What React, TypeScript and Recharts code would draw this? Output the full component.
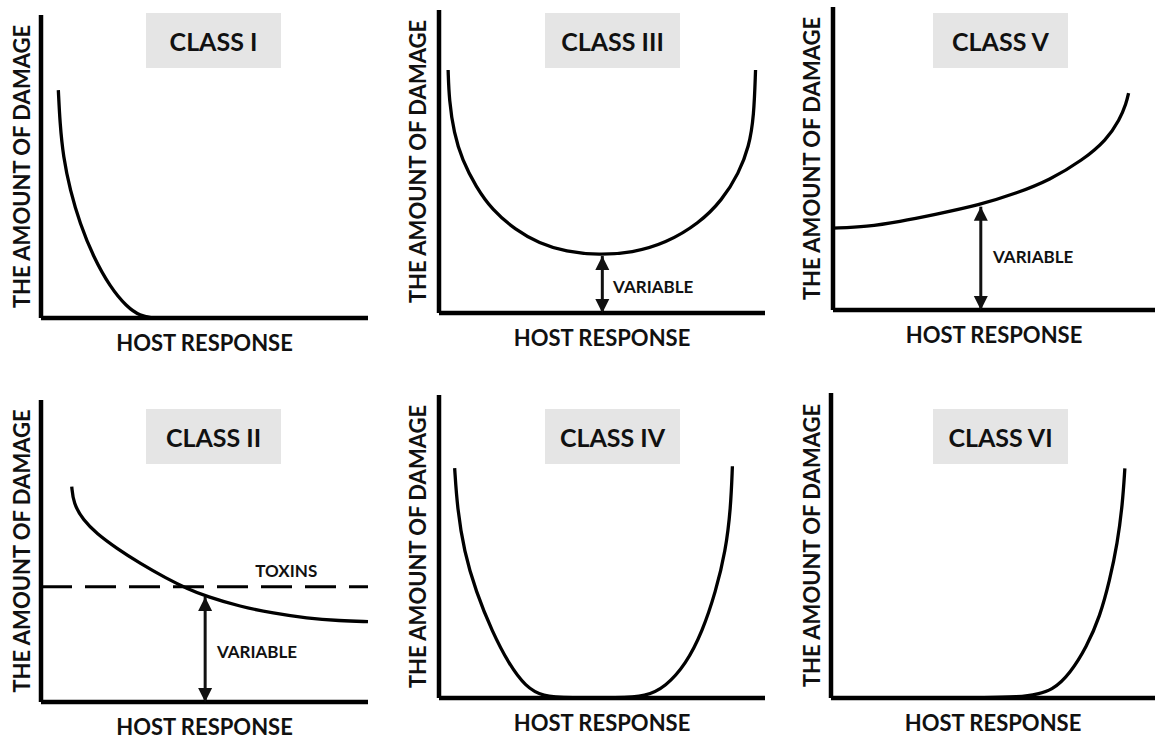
import { LineChart, Line, XAxis, YAxis, ReferenceLine, ReferenceDot } from 'recharts';

const FONT = 'Lato, "Open Sans", sans-serif';
const INK = '#111';

// curves, x and y both on a 0..100 scale
const class1X = [5.3, 5.8, 6.8, 8.9, 11.9, 16.0, 21.1, 26.2, 30.3, 34.3];
const class1Y = [75.2, 64.2, 53.2, 42.2, 31.2, 20.2, 10.3, 3.7, 0.7, 0];

const class3X = [2.8, 3.1, 4.6, 7.1, 11.3, 16.3, 23.5, 30.7, 38.9, 49.1, 59.3, 69.5, 79.8, 86.9, 92.0, 95.1, 96.6, 97.1];
const class3Y = [80.2, 70.3, 59.3, 50.5, 41.7, 34.0, 27.4, 23.0, 20.2, 19.1, 19.9, 23.0, 29.6, 37.3, 46.2, 54.9, 64.8, 80.2];

const class5X = [0, 10.5, 20.8, 31.1, 45.6, 56.9, 67.3, 77.6, 84.9, 89.0, 91.1, 91.8];
const class5Y = [27.0, 27.5, 29.2, 31.4, 34.7, 38.5, 42.9, 49.5, 56.1, 62.7, 68.3, 71.6];

const class2X = [9.4, 9.9, 12.9, 17.0, 23.1, 30.3, 38.4, 44.6, 50.7, 60.9, 71.0, 81.3, 91.4, 100];
const class2Y = [71.3, 65.8, 60.2, 55.8, 50.9, 45.9, 40.9, 37.6, 34.9, 31.6, 29.4, 27.7, 26.9, 26.6];
const toxinLevel = 38.2;

const class4X = [4.8, 5.6, 7.7, 11.3, 16.3, 21.5, 26.6, 31.7, 40, 55, 63.4, 69.5, 75.7, 80.8, 84.9, 87.9, 89.5, 90.0];
const class4Y = [75.9, 62.7, 48.4, 35.2, 21.9, 11.1, 3.7, 0.5, 0, 0, 0.5, 3.7, 11.1, 21.9, 35.2, 48.4, 62.7, 76.5];

const class6X = [0, 30, 61, 68.6, 73.8, 78.9, 83.0, 86.0, 88.4, 90.0, 90.7];
const class6Y = [0, 0, 0, 2.6, 8.1, 16.8, 26.7, 38.5, 50.7, 63.8, 75.3];

// "VARIABLE" arrows: x, top y (on the curve), bottom y (on the axis)
const arrow3 = [50.1, 18.8, 0];
const arrow5 = [45.9, 34.1, 0];
const arrow2 = [50.2, 34.8, 0];

const zip = (xs: number[], ys: number[]) => xs.map((x, i) => ({ x, y: ys[i] }));

function ArrowHead(props: any) {
  const { cx, cy, index } = props;
  if (cx == null || cy == null) return null;
  const d = index === 0 ? 1 : -1;
  return (
    <polygon
      key={`ah-${index}`}
      points={`${cx},${cy} ${cx - 7},${cy + d * 14} ${cx + 7},${cy + d * 14}`}
      fill={INK}
    />
  );
}

type Note = { text: string; x: number; y: number; anchor: 'right' | 'center' };

type PanelDef = {
  title: string;
  left: number; top: number; w: number; h: number; yw: number;
  titleLeft: number; titleTop: number;
  curve: { x: number; y: number }[];
  arrow?: number[];
  dashed?: number;
  notes?: Note[];
};

const PANELS: PanelDef[] = [
  { title: 'CLASS I', left: 41, top: 15, w: 327, h: 303, yw: 38, titleLeft: 146, titleTop: 13,
    curve: zip(class1X, class1Y) },
  { title: 'CLASS III', left: 439, top: 10, w: 326, h: 303, yw: 42, titleLeft: 545, titleTop: 13,
    curve: zip(class3X, class3Y), arrow: arrow3,
    notes: [{ text: 'VARIABLE', x: 53.4, y: 8.6, anchor: 'right' }] },
  { title: 'CLASS V', left: 833, top: 7, w: 322, h: 303, yw: 42, titleLeft: 933, titleTop: 13,
    curve: zip(class5X, class5Y), arrow: arrow5,
    notes: [{ text: 'VARIABLE', x: 49.7, y: 17.5, anchor: 'right' }] },
  { title: 'CLASS II', left: 41, top: 400, w: 327, h: 302, yw: 38, titleLeft: 146, titleTop: 409,
    curve: zip(class2X, class2Y), arrow: arrow2, dashed: toxinLevel,
    notes: [
      { text: 'TOXINS', x: 75, y: 43.4, anchor: 'center' },
      { text: 'VARIABLE', x: 53.8, y: 16.6, anchor: 'right' },
    ] },
  { title: 'CLASS IV', left: 439, top: 395, w: 326, h: 303, yw: 42, titleLeft: 545, titleTop: 409,
    curve: zip(class4X, class4Y) },
  { title: 'CLASS VI', left: 831, top: 393, w: 324, h: 305, yw: 38, titleLeft: 933, titleTop: 409,
    curve: zip(class6X, class6Y) },
];

const XH = 50;
const M = 5;

function Panel({ p }: { p: PanelDef }) {
  const labelStyle = { fill: INK, fontSize: 22, fontWeight: 700, fontFamily: FONT };
  const noteStyle = { fill: INK, fontSize: 17, fontWeight: 700, fontFamily: FONT };
  return (
    <>
      <div style={{ position: 'absolute', left: p.left - p.yw, top: p.top - M }}>
        <LineChart width={p.yw + p.w + M} height={M + p.h + XH} margin={{ top: M, right: M, left: 0, bottom: 0 }}>
          <XAxis type="number" dataKey="x" domain={[0, 100]} tick={false} tickLine={false} height={XH}
            axisLine={{ stroke: '#000', strokeWidth: 4.5 }}
            label={{ value: 'HOST RESPONSE', position: 'center', ...labelStyle }} />
          <YAxis type="number" dataKey="y" domain={[0, 100]} tick={false} tickLine={false} width={p.yw}
            axisLine={{ stroke: '#000', strokeWidth: 4.5 }}
            label={{ value: 'THE AMOUNT OF DAMAGE', angle: -90, position: 'center', ...labelStyle }} />
          {p.dashed != null && (
            <ReferenceLine y={p.dashed} stroke="#000" strokeWidth={3} strokeDasharray="31 13" />
          )}
          <Line data={p.curve} dataKey="y" type="basis" stroke="#000" strokeWidth={3.3}
            dot={false} activeDot={false} isAnimationActive={false} />
          {p.arrow && (
            <Line
              data={[{ x: p.arrow[0], y: p.arrow[1] }, { x: p.arrow[0], y: p.arrow[2] }]}
              dataKey="y" type="linear" stroke={INK} strokeWidth={3}
              dot={(d: any) => <ArrowHead {...d} key={`ah-${d.index}`} />}
              activeDot={false} isAnimationActive={false} />
          )}
          {(p.notes || []).map(n => (
            <ReferenceDot key={n.text} x={n.x} y={n.y} r={0} fill="none" stroke="none"
              label={{ value: n.text, position: n.anchor, offset: 0, ...noteStyle }} />
          ))}
        </LineChart>
      </div>
      <div style={{
        position: 'absolute', left: p.titleLeft, top: p.titleTop, width: 135, height: 55,
        background: '#e5e5e5', display: 'flex', alignItems: 'center', justifyContent: 'center',
        fontFamily: FONT, fontWeight: 700, fontSize: 25, color: INK,
      }}>
        {p.title}
      </div>
    </>
  );
}

export default function App() {
  return (
    <div style={{ position: 'absolute', left: 0, top: 0, width: 1155, height: 739, overflow: 'hidden', background: '#fff' }}>
      {PANELS.map(p => <Panel key={p.title} p={p} />)}
    </div>
  );
}
